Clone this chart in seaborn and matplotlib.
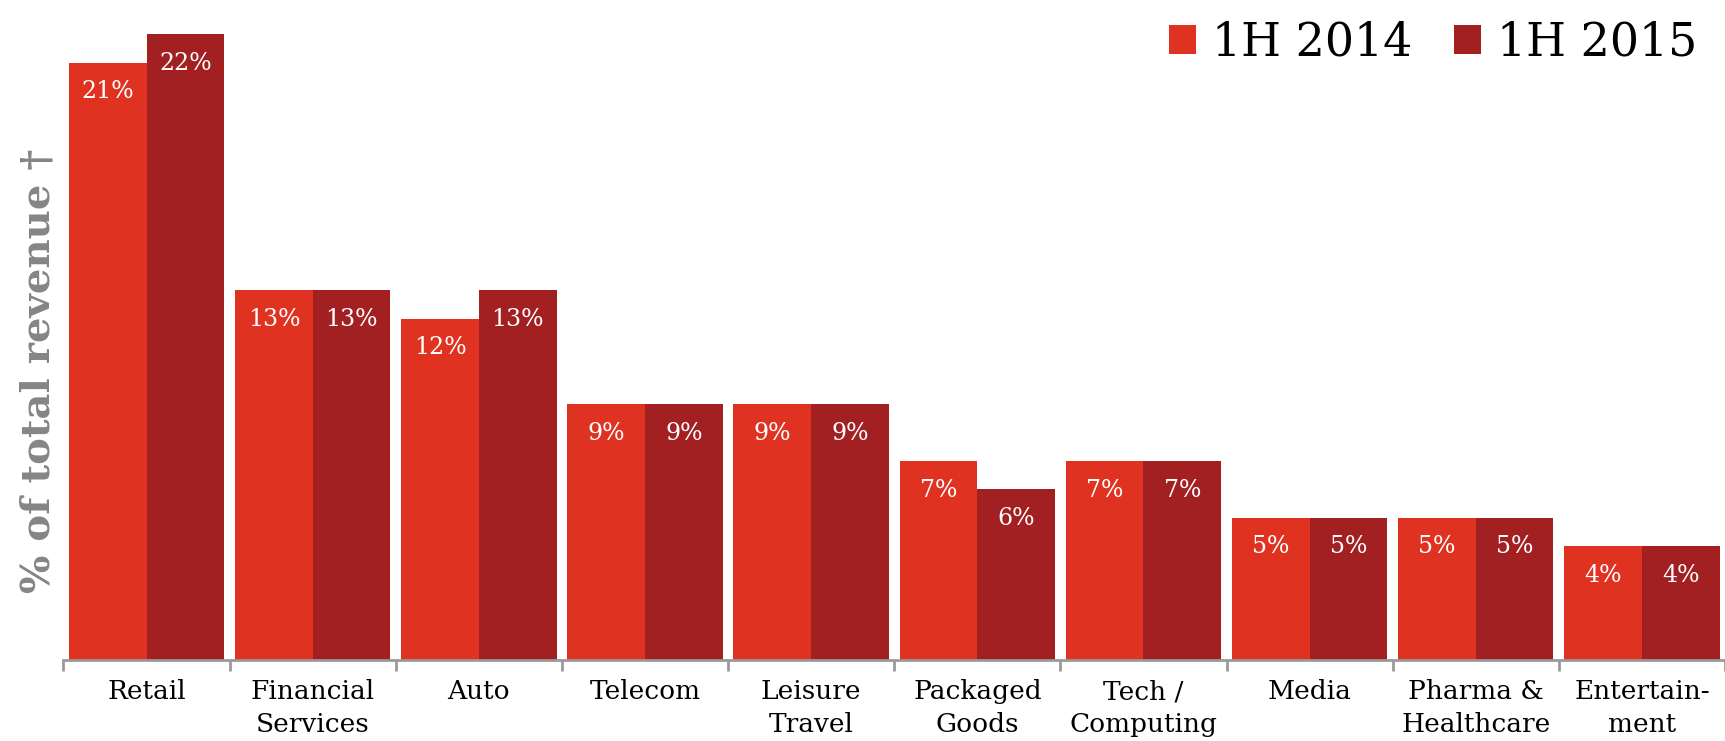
import matplotlib
matplotlib.use("Agg")
import matplotlib.pyplot as plt
import seaborn as sns
import pandas as pd
from matplotlib.patches import Patch

# Revenue share by industry vertical, first half of each year
categories = ["Retail", "Financial\nServices", "Auto", "Telecom", "Leisure\nTravel",
              "Packaged\nGoods", "Tech /\nComputing", "Media", "Pharma &\nHealthcare",
              "Entertain-\nment"]
share_2014 = [21, 13, 12, 9, 9, 7, 7, 5, 5, 4]
share_2015 = [22, 13, 13, 9, 9, 6, 7, 5, 5, 4]
series = ["1H 2014", "1H 2015"]

colors = {"1H 2014": "#DF3220", "1H 2015": "#A21F22"}

df = pd.DataFrame({
    "category": categories * 2,
    "period": [series[0]] * len(categories) + [series[1]] * len(categories),
    "share": share_2014 + share_2015,
})

sns.set_theme(style="white")
plt.rcParams["font.family"] = ["DejaVu Serif"]

fig = plt.figure(figsize=(17.25, 7.41), dpi=100)
ax = fig.add_axes([63.5 / 1725, 81 / 741, 1 - 63.5 / 1725, 660 / 741])

sns.barplot(data=df, x="category", y="share", hue="period", order=categories,
            hue_order=series, palette=colors, width=0.935, gap=0,
            saturation=1, legend=False, ax=ax, linewidth=0)

ax.set_xlim(-0.5, 9.45)
ax.set_ylim(0, 23.2)

# value labels inside the top of each bar
for container in ax.containers:
    for bar in container:
        h = bar.get_height()
        ax.annotate(f"{h:.0f}%", (bar.get_x() + bar.get_width() / 2, h),
                    xytext=(0, -21), textcoords="offset points",
                    ha="center", va="center", color="white", fontsize=17)

for s in ["top", "right", "left"]:
    ax.spines[s].set_visible(False)
ax.spines["bottom"].set_color("#9a9a9a")
ax.spines["bottom"].set_linewidth(2)

ax.set_yticks([])
ax.set_ylabel("")
ax.set_xlabel("")
ax.set_xticks(range(len(categories)))
ax.set_xticklabels(categories, fontsize=19, color="black", linespacing=1.4)
ax.tick_params(axis="x", which="major", length=0, pad=14)
ax.set_xticks([i - 0.5 for i in range(len(categories) + 1)], minor=True)
ax.tick_params(axis="x", which="minor", bottom=True, length=8, width=2,
               color="#9a9a9a")

fig.text(39 / 1725, 1 - 371 / 741, "% of total revenue †", rotation=90,
         ha="center", va="center", fontsize=29, fontweight="bold", color="#858585")

handles = [Patch(facecolor=colors[s], edgecolor="none") for s in series]
fig.legend(handles, series, loc="upper right", bbox_to_anchor=(1.0, 1.01), ncol=2,
           frameon=False, fontsize=33, handlelength=0.6, handleheight=0.6,
           handletextpad=0.35, columnspacing=0.9, borderaxespad=0.2,
           labelcolor="black")

fig.savefig("out.png", dpi=100)
